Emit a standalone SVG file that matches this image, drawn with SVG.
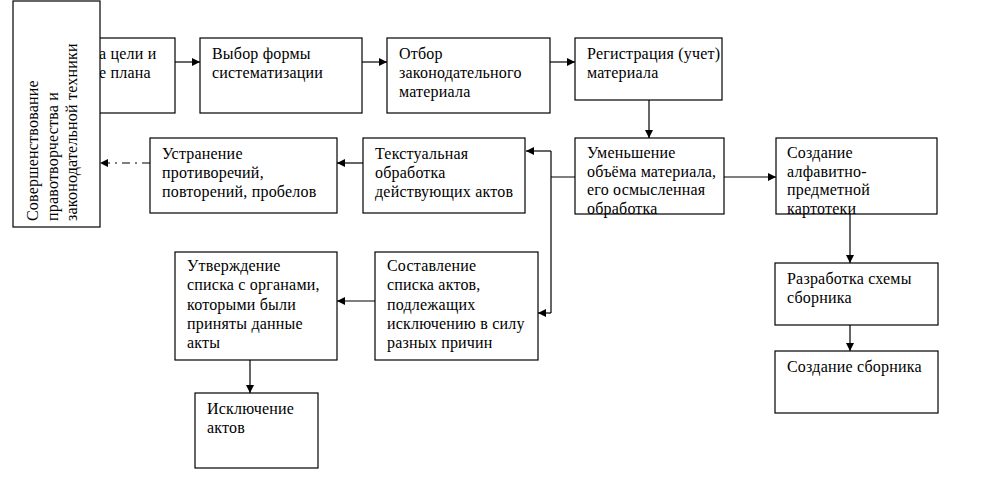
<svg xmlns="http://www.w3.org/2000/svg" width="1000" height="501" viewBox="0 0 1000 501">
<defs>
<marker id="ah" viewBox="0 0 10 10" refX="10" refY="5" markerWidth="8" markerHeight="8" markerUnits="userSpaceOnUse" orient="auto">
<path d="M0,0 L10,5 L0,10 z" fill="#000"/>
</marker>
<style>
rect.b{fill:#fff;stroke:#000;stroke-width:1.2}
text{font-family:"Liberation Serif","DejaVu Serif",serif;font-size:16px;letter-spacing:0.2px;fill:#000}
.c path{fill:none;stroke:#000;stroke-width:1.2}
.c path.a{marker-end:url(#ah)}
.c path.d{stroke-dasharray:8,5,2,5}
</style>
</defs>
<rect width="1000" height="501" fill="#fff"/>

<g id="n1">
<rect class="b" x="40" y="38" width="135" height="75"/>
<text x="99" y="59">а цели и</text>
<text x="99" y="78">е плана</text>
</g>
<g id="n0">
<rect class="b" x="13" y="1" width="87" height="226"/>
<text transform="rotate(-90 38 221)" x="38" y="221">Совершенствование</text>
<text transform="rotate(-90 57.5 221)" x="57.5" y="221">правотворчества и</text>
<text transform="rotate(-90 77 221)" x="77" y="221">законодательной техники</text>
</g>
<g id="n2">
<rect class="b" x="200" y="38" width="162" height="75"/>
<text x="212" y="59">Выбор формы</text>
<text x="212" y="78">систематизации</text>
</g>
<g id="n3">
<rect class="b" x="387" y="38" width="163" height="75"/>
<text x="399" y="59">Отбор</text>
<text x="399" y="78">законодательного</text>
<text x="399" y="97">материала</text>
</g>
<g id="n4">
<rect class="b" x="575" y="38" width="147" height="62"/>
<text x="587" y="59">Регистрация (учет)</text>
<text x="587" y="78">материала</text>
</g>
<g id="n5">
<rect class="b" x="575" y="138" width="149" height="76"/>
<text x="587" y="158">Уменьшение</text>
<text x="587" y="176.5">объёма материала,</text>
<text x="587" y="195">его осмысленная</text>
<text x="587" y="213.5">обработка</text>
</g>
<g id="n6">
<rect class="b" x="776" y="138" width="161" height="76"/>
<text x="787" y="158">Создание</text>
<text x="787" y="176.5">алфавитно-</text>
<text x="787" y="195">предметной</text>
<text x="787" y="213.5">картотеки</text>
</g>
<g id="n7">
<rect class="b" x="363" y="138" width="162" height="75"/>
<text x="375" y="159">Текстуальная</text>
<text x="375" y="178">обработка</text>
<text x="375" y="197">действующих актов</text>
</g>
<g id="n8">
<rect class="b" x="150" y="138" width="187" height="75"/>
<text x="162" y="159">Устранение</text>
<text x="162" y="178">противоречий,</text>
<text x="162" y="197">повторений, пробелов</text>
</g>
<g id="n9">
<rect class="b" x="375" y="252" width="163" height="108"/>
<text x="387" y="271">Составление</text>
<text x="387" y="290">списка актов,</text>
<text x="387" y="309.5">подлежащих</text>
<text x="387" y="329">исключению в силу</text>
<text x="387" y="348">разных причин</text>
</g>
<g id="n10">
<rect class="b" x="175" y="252" width="162" height="108"/>
<text x="187" y="271">Утверждение</text>
<text x="187" y="290">списка с органами,</text>
<text x="187" y="309.5">которыми были</text>
<text x="187" y="329">приняты данные</text>
<text x="187" y="348">акты</text>
</g>
<g id="n11">
<rect class="b" x="195" y="393" width="123" height="75"/>
<text x="207" y="414">Исключение</text>
<text x="207" y="433">актов</text>
</g>
<g id="n12">
<rect class="b" x="775" y="263" width="163" height="62"/>
<text x="787" y="284">Разработка схемы</text>
<text x="787" y="303">сборника</text>
</g>
<g id="n13">
<rect class="b" x="775" y="351" width="163" height="62"/>
<text x="787" y="372">Создание сборника</text>
</g>

<g id="connectors" class="c">
<path class="a" d="M175,62 H200"/>
<path class="a" d="M362,62 H387"/>
<path class="a" d="M550,62 H575"/>
<path class="a" d="M649,100 V138"/>
<path class="a" d="M724,177 H776"/>
<path class="a" d="M850,214 V263"/>
<path class="a" d="M850,325 V351"/>
<path d="M575,177 H551 M551,151 V313"/>
<path class="a" d="M551,151 H526"/>
<path class="a" d="M551,313 H538"/>
<path class="a" d="M363,163 H337"/>
<path class="a d" d="M150,163 H100"/>
<path class="a" d="M375,301 H337"/>
<path class="a" d="M250,360 V393"/>
</g>
</svg>
